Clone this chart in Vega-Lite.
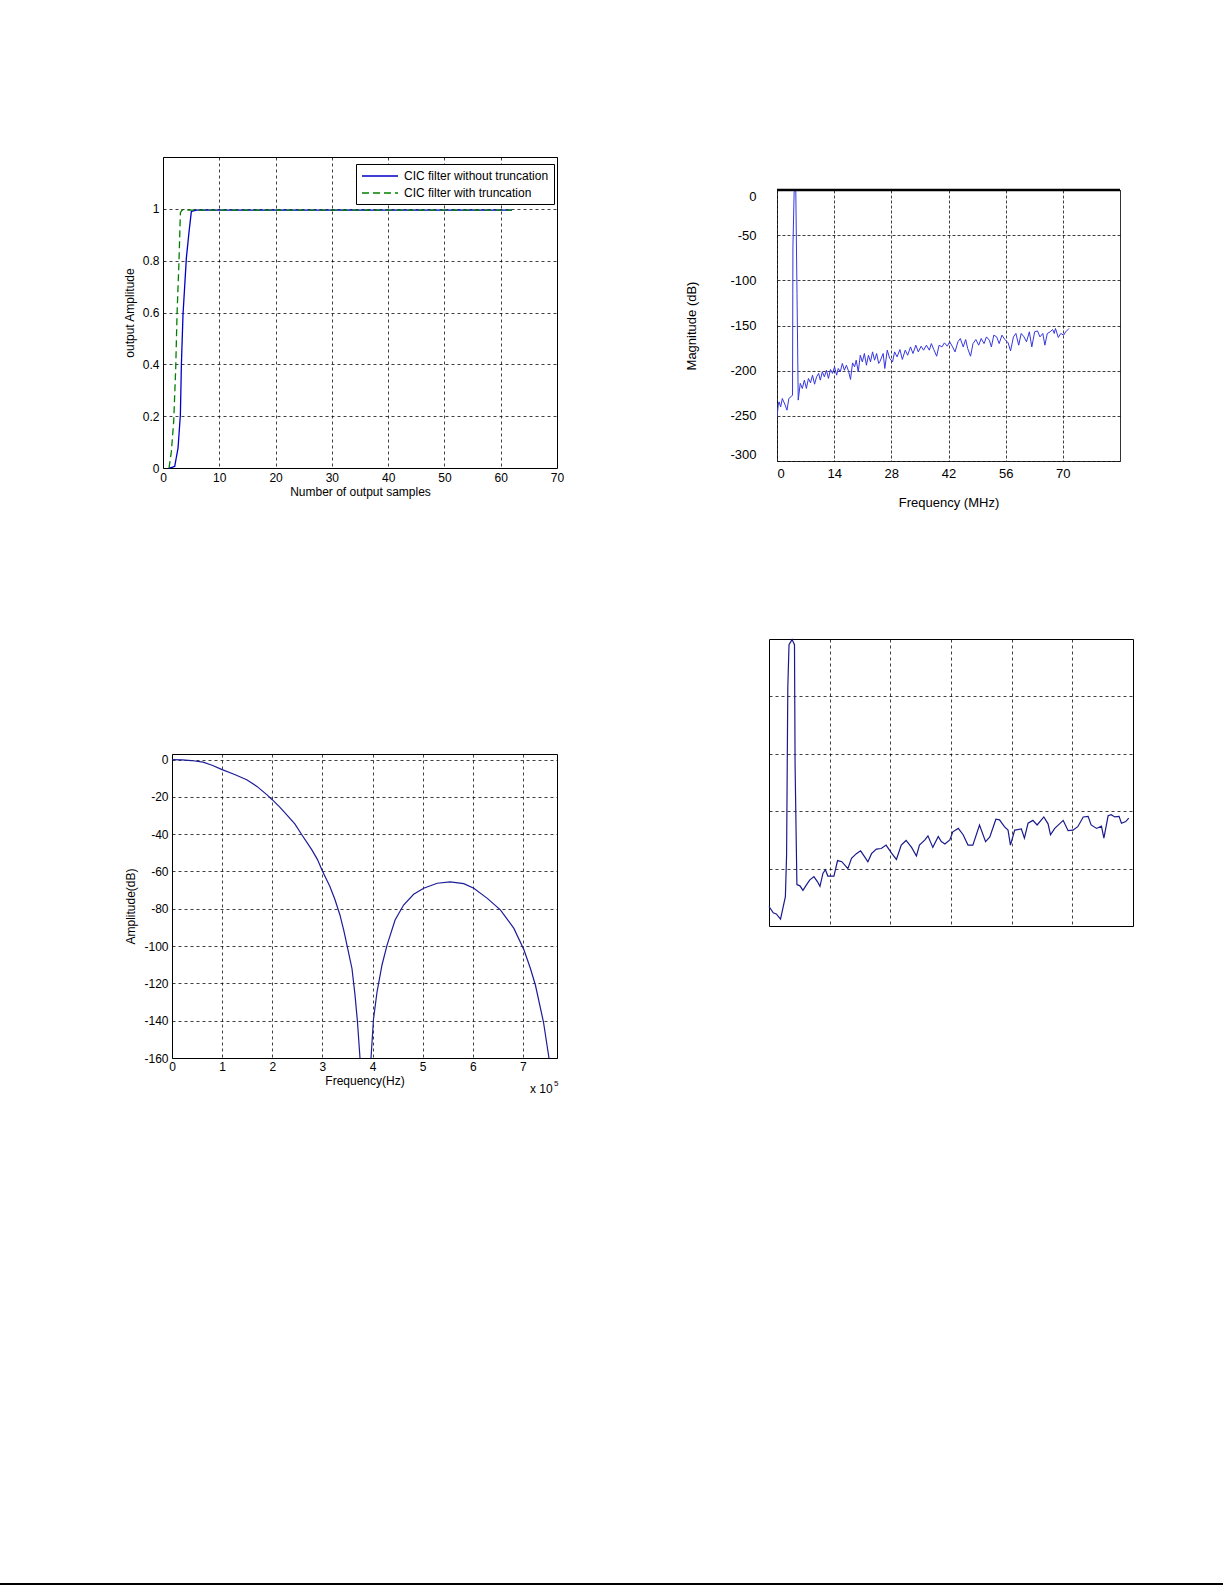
{
  "$schema": "https://vega.github.io/schema/vega-lite/v6.json",
  "padding": 0,
  "background": "white",
  "bounds": "flush",
  "spacing": 0,
  "config": {
    "font": "Liberation Sans",
    "view": {"stroke": "#000", "strokeWidth": 1},
    "concat": {"spacing": 0},
    "axis": {
      "domain": false, "ticks": false, "grid": true,
      "gridColor": "#000", "gridDash": [3, 3], "gridOpacity": 0.75,
      "labelColor": "#000", "titleColor": "#000", "titleFontWeight": "normal",
      "labelFontSize": 12, "titleFontSize": 12, "labelFlush": false, "labelOverlap": false,
      "labelExpr": "'' + datum.value"
    }
  },
  "vconcat": [
    {
      "bounds": "flush", "spacing": 0,
      "hconcat": [
        {"width": 163, "height": 1, "view": {"stroke": null}, "data": {"values": []}, "mark": "point"},
        {
          "bounds": "flush", "spacing": 0,
          "vconcat": [
            {"width": 1, "height": 157, "view": {"stroke": null}, "data": {"values": []}, "mark": "point"},
            {
              "width": 394, "height": 311,
              "data": {"values": [
                {"series": "CIC filter without truncation", "x": 1.07, "y": 0},
                {"series": "CIC filter without truncation", "x": 1.19, "y": 0},
                {"series": "CIC filter without truncation", "x": 2.08, "y": 0.006},
                {"series": "CIC filter without truncation", "x": 2.67, "y": 0.077},
                {"series": "CIC filter without truncation", "x": 3.09, "y": 0.206},
                {"series": "CIC filter without truncation", "x": 3.27, "y": 0.4},
                {"series": "CIC filter without truncation", "x": 3.55, "y": 0.59},
                {"series": "CIC filter without truncation", "x": 4.15, "y": 0.81},
                {"series": "CIC filter without truncation", "x": 4.62, "y": 0.91},
                {"series": "CIC filter without truncation", "x": 5.04, "y": 0.99},
                {"series": "CIC filter without truncation", "x": 5.93, "y": 0.995},
                {"series": "CIC filter without truncation", "x": 62, "y": 0.995},
                {"series": "CIC filter with truncation", "x": 1.07, "y": 0},
                {"series": "CIC filter with truncation", "x": 1.49, "y": 0.064},
                {"series": "CIC filter with truncation", "x": 1.9, "y": 0.18},
                {"series": "CIC filter with truncation", "x": 2.26, "y": 0.386},
                {"series": "CIC filter with truncation", "x": 2.49, "y": 0.59},
                {"series": "CIC filter with truncation", "x": 2.84, "y": 0.797},
                {"series": "CIC filter with truncation", "x": 3.09, "y": 0.985},
                {"series": "CIC filter with truncation", "x": 3.37, "y": 0.995},
                {"series": "CIC filter with truncation", "x": 62, "y": 0.995}
              ]},
              "mark": {"type": "line", "strokeWidth": 1.3},
              "encoding": {
                "x": {"field": "x", "type": "quantitative",
                  "scale": {"domain": [0, 70], "nice": false},
                  "axis": {"values": [0, 10, 20, 30, 40, 50, 60, 70], "title": "Number of output samples", "labelPadding": 4, "titlePadding": 3}},
                "y": {"field": "y", "type": "quantitative",
                  "scale": {"domain": [0, 1.2], "nice": false},
                  "axis": {"values": [0, 0.2, 0.4, 0.6, 0.8, 1], "title": "output Amplitude", "labelPadding": 4, "titlePadding": 6}},
                "color": {"field": "series", "type": "nominal",
                  "scale": {"domain": ["CIC filter without truncation", "CIC filter with truncation"], "range": ["#0000c8", "#008000"]},
                  "legend": {"orient": "none", "legendX": 356, "legendY": 164, "title": null, "strokeColor": "#000", "fillColor": "#fff", "padding": 5, "symbolType": "M-1,0H5", "symbolSize": 144, "symbolStrokeWidth": 1.3, "labelFontSize": 12, "labelOffset": 29, "rowPadding": 4, "cornerRadius": 0, "labelColor": "#000"}},
                "strokeDash": {"field": "series", "type": "nominal",
                  "scale": {"domain": ["CIC filter without truncation", "CIC filter with truncation"], "range": [[1, 0], [7, 4]]},
                  "legend": {"orient": "none", "legendX": 356, "legendY": 164, "title": null, "strokeColor": "#000", "fillColor": "#fff", "padding": 5, "symbolType": "M-1,0H5", "symbolSize": 144, "symbolStrokeWidth": 1.3, "labelFontSize": 12, "labelOffset": 29, "rowPadding": 4, "cornerRadius": 0, "labelColor": "#000"}}
              }
            },
            {"width": 1, "height": 286, "view": {"stroke": null}, "data": {"values": []}, "mark": "point"},
            {
              "bounds": "flush", "spacing": 0,
              "hconcat": [
                {"width": 9, "height": 1, "view": {"stroke": null}, "data": {"values": []}, "mark": "point"},
                {
                  "width": 385, "height": 304,
                  "layer": [
                    {
                      "data": {"values": [
                        {"f": 0, "a": 0}, {"f": 0.2, "a": -0.2}, {"f": 0.39, "a": -0.5}, {"f": 0.62, "a": -1.4},
                        {"f": 0.8, "a": -3}, {"f": 1.0, "a": -5.4}, {"f": 1.25, "a": -8}, {"f": 1.49, "a": -10.8},
                        {"f": 1.7, "a": -14.5}, {"f": 1.89, "a": -18.8}, {"f": 2.0, "a": -21.5}, {"f": 2.15, "a": -25.5},
                        {"f": 2.29, "a": -29.6}, {"f": 2.45, "a": -34.5}, {"f": 2.59, "a": -40.3}, {"f": 2.79, "a": -48.4},
                        {"f": 2.9, "a": -53.5}, {"f": 3.0, "a": -59.7}, {"f": 3.15, "a": -68.1}, {"f": 3.25, "a": -75},
                        {"f": 3.35, "a": -83.3}, {"f": 3.43, "a": -92}, {"f": 3.49, "a": -99.5}, {"f": 3.59, "a": -112},
                        {"f": 3.65, "a": -126}, {"f": 3.7, "a": -140.7}, {"f": 3.75, "a": -160}, {"f": 3.77, "a": -170},
                        {"f": 3.95, "a": -170}, {"f": 3.97, "a": -160}, {"f": 4.02, "a": -139}, {"f": 4.09, "a": -124.6},
                        {"f": 4.19, "a": -110}, {"f": 4.29, "a": -99.5}, {"f": 4.45, "a": -86}, {"f": 4.62, "a": -78},
                        {"f": 4.82, "a": -72.2}, {"f": 5.02, "a": -69}, {"f": 5.29, "a": -66.3}, {"f": 5.55, "a": -65.6},
                        {"f": 5.82, "a": -66.5}, {"f": 6.02, "a": -69}, {"f": 6.29, "a": -74.4}, {"f": 6.55, "a": -80.6},
                        {"f": 6.82, "a": -90.5}, {"f": 7.02, "a": -102}, {"f": 7.15, "a": -112}, {"f": 7.25, "a": -121},
                        {"f": 7.41, "a": -140.7}, {"f": 7.52, "a": -160}, {"f": 7.54, "a": -170}
                      ]},
                      "mark": {"type": "line", "strokeWidth": 1.2, "color": "#1c1c99", "clip": true},
                      "encoding": {
                        "x": {"field": "f", "type": "quantitative",
                          "scale": {"domain": [0, 7.68], "nice": false},
                          "axis": {"values": [0, 1, 2, 3, 4, 5, 6, 7], "title": "Frequency(Hz)", "labelPadding": 3, "titlePadding": 3}},
                        "y": {"field": "a", "type": "quantitative",
                          "scale": {"domain": [-160, 3], "nice": false},
                          "axis": {"values": [-160, -140, -120, -100, -80, -60, -40, -20, 0], "title": "Amplitude(dB)", "labelPadding": 4, "titlePadding": 6}}
                      }
                    },
                    {
                      "data": {"values": [{"note": "exponent"}]},
                      "mark": {"type": "text", "text": "x 10", "align": "left", "baseline": "alphabetic", "fontSize": 12, "fontWeight": "normal", "dx": -27, "dy": 35, "clip": false, "color": "#000"},
                      "encoding": {
                        "x": {"datum": 7.68, "type": "quantitative", "axis": {"values": [0, 1, 2, 3, 4, 5, 6, 7], "title": "Frequency(Hz)", "labelPadding": 3, "titlePadding": 3}},
                        "y": {"datum": -160, "type": "quantitative", "axis": {"values": [-160, -140, -120, -100, -80, -60, -40, -20, 0], "title": "Amplitude(dB)", "labelPadding": 4, "titlePadding": 6}}
                      }
                    },
                    {
                      "data": {"values": [{"note": "exponent"}]},
                      "mark": {"type": "text", "text": "5", "align": "left", "baseline": "alphabetic", "fontSize": 8, "fontWeight": "normal", "dx": -3, "dy": 28, "clip": false, "color": "#000"},
                      "encoding": {
                        "x": {"datum": 7.68, "type": "quantitative", "axis": {"values": [0, 1, 2, 3, 4, 5, 6, 7], "title": "Frequency(Hz)", "labelPadding": 3, "titlePadding": 3}},
                        "y": {"datum": -160, "type": "quantitative", "axis": {"values": [-160, -140, -120, -100, -80, -60, -40, -20, 0], "title": "Amplitude(dB)", "labelPadding": 4, "titlePadding": 6}}
                      }
                    }
                  ]
                }
              ]
            }
          ]
        },
        {"width": 606, "height": 1, "view": {"stroke": null}, "data": {"values": []}, "mark": "point"},
        {
          "bounds": "flush", "spacing": 0,
          "vconcat": [
            {"width": 1, "height": 190, "view": {"stroke": null}, "data": {"values": []}, "mark": "point"},
            {
              "bounds": "flush", "spacing": 0,
              "hconcat": [
                {"width": 8, "height": 1, "view": {"stroke": null}, "data": {"values": []}, "mark": "point"},
                {
                  "width": 343, "height": 271,
                  "view": {"stroke": "#333"},
                  "layer": [
                    {
                      "data": {"values": [
                        {"f": 0, "m": -252}, {"f": 0.3, "m": -238}, {"f": 0.5, "m": -234.5}, {"f": 0.9, "m": -240},
                        {"f": 1.3, "m": -230.8}, {"f": 1.9, "m": -237}, {"f": 2.45, "m": -243.7}, {"f": 2.9, "m": -230.8},
                        {"f": 3.4, "m": -229}, {"f": 3.8, "m": -227}, {"f": 3.9, "m": -63}, {"f": 4.2, "m": -2},
                        {"f": 4.6, "m": 0}, {"f": 4.9, "m": -114.6}, {"f": 5.2, "m": -232.6}, {"f": 5.7, "m": -214},
                        {"f": 6.2, "m": -219.7}, {"f": 6.7, "m": -210.5}, {"f": 7.2, "m": -219.7}, {"f": 7.7, "m": -208.6},
                        {"f": 8.2, "m": -213.5}, {"f": 8.7, "m": -205}, {"f": 9.2, "m": -215}, {"f": 9.7, "m": -206.8},
                        {"f": 10.2, "m": -203}, {"f": 10.6, "m": -210.5}, {"f": 11.1, "m": -201.3}, {"f": 11.6, "m": -206.8},
                        {"f": 12.1, "m": -199.5}, {"f": 12.6, "m": -208.6}, {"f": 13.1, "m": -198.7}, {"f": 13.6, "m": -203},
                        {"f": 14.1, "m": -195.8}, {"f": 14.6, "m": -205}, {"f": 15.0, "m": -197.6}, {"f": 15.5, "m": -201.3},
                        {"f": 16.0, "m": -192}, {"f": 16.5, "m": -199.5}, {"f": 17.0, "m": -194}, {"f": 17.5, "m": -200.2},
                        {"f": 18.0, "m": -209.7}, {"f": 18.5, "m": -191.4}, {"f": 19.0, "m": -195.8}, {"f": 19.4, "m": -188.4},
                        {"f": 19.9, "m": -201.3}, {"f": 20.4, "m": -182.9}, {"f": 20.9, "m": -190.3}, {"f": 21.4, "m": -181},
                        {"f": 21.9, "m": -194}, {"f": 22.4, "m": -182.9}, {"f": 22.9, "m": -190.3}, {"f": 23.4, "m": -179.2},
                        {"f": 23.9, "m": -188.4}, {"f": 24.4, "m": -181}, {"f": 24.9, "m": -192}, {"f": 25.2, "m": -190},
                        {"f": 26.0, "m": -181}, {"f": 26.4, "m": -197.6}, {"f": 27.0, "m": -177.3}, {"f": 27.6, "m": -186.5},
                        {"f": 28.3, "m": -190.3}, {"f": 28.8, "m": -179.2}, {"f": 29.4, "m": -184.7}, {"f": 30.1, "m": -176.6},
                        {"f": 30.7, "m": -187.6}, {"f": 31.4, "m": -177.3}, {"f": 32.0, "m": -182.9}, {"f": 32.7, "m": -173.7},
                        {"f": 33.3, "m": -181}, {"f": 34.0, "m": -171.8}, {"f": 34.6, "m": -179.2}, {"f": 35.3, "m": -172.9},
                        {"f": 35.9, "m": -177.3}, {"f": 36.6, "m": -171.8}, {"f": 37.3, "m": -177.3}, {"f": 37.8, "m": -170},
                        {"f": 38.4, "m": -176.6}, {"f": 39.1, "m": -184}, {"f": 39.7, "m": -171.8}, {"f": 40.4, "m": -173.7},
                        {"f": 41.0, "m": -169.2}, {"f": 41.7, "m": -172.9}, {"f": 42.3, "m": -168.1}, {"f": 43.0, "m": -173.7},
                        {"f": 43.6, "m": -179.2}, {"f": 44.3, "m": -168.1}, {"f": 44.9, "m": -164.4}, {"f": 45.6, "m": -173.7},
                        {"f": 46.2, "m": -165.5}, {"f": 46.7, "m": -175.5}, {"f": 47.4, "m": -184}, {"f": 48.0, "m": -170},
                        {"f": 48.7, "m": -165.5}, {"f": 49.4, "m": -171.8}, {"f": 50.0, "m": -164.4}, {"f": 50.7, "m": -170},
                        {"f": 51.3, "m": -162.6}, {"f": 52.0, "m": -166.3}, {"f": 52.5, "m": -173.7}, {"f": 53.1, "m": -160.7},
                        {"f": 53.8, "m": -162.6}, {"f": 54.4, "m": -170}, {"f": 55.1, "m": -160.7}, {"f": 55.8, "m": -165.5},
                        {"f": 56.6, "m": -169.2}, {"f": 57.2, "m": -178.1}, {"f": 57.9, "m": -162.6}, {"f": 58.5, "m": -158.8},
                        {"f": 59.2, "m": -171.8}, {"f": 59.8, "m": -158.8}, {"f": 60.5, "m": -162.6}, {"f": 61.1, "m": -168.1},
                        {"f": 61.8, "m": -157}, {"f": 62.4, "m": -173.7}, {"f": 63.1, "m": -157}, {"f": 63.8, "m": -156},
                        {"f": 64.4, "m": -162.6}, {"f": 65.1, "m": -158.8}, {"f": 65.6, "m": -171.8}, {"f": 66.2, "m": -158.8},
                        {"f": 66.9, "m": -157}, {"f": 67.5, "m": -154.4}, {"f": 67.9, "m": -158.8}, {"f": 68.2, "m": -153.3},
                        {"f": 68.9, "m": -163.3}, {"f": 69.5, "m": -158.8}, {"f": 70.2, "m": -160.7}, {"f": 70.7, "m": -157},
                        {"f": 71.5, "m": -153.3}
                      ]},
                      "mark": {"type": "line", "strokeWidth": 1, "color": "#3636e0", "clip": true},
                      "encoding": {
                        "x": {"field": "f", "type": "quantitative",
                          "scale": {"domain": [0, 84], "nice": false},
                          "axis": {"values": [0, 14, 28, 42, 56, 70], "title": "Frequency (MHz)", "labelFontSize": 13, "titleFontSize": 13, "labelPadding": 6, "titlePadding": 16, "labelFlush": true, "gridDash": [3, 2]}},
                        "y": {"field": "m", "type": "quantitative",
                          "scale": {"domain": [-300, 0], "nice": false},
                          "axis": {"values": [-300, -250, -200, -150, -100, -50, 0], "title": "Magnitude (dB)", "labelFontSize": 13, "titleFontSize": 13, "labelPadding": 21, "titlePadding": 31, "labelFlush": true, "gridDash": [3, 2]}}
                      }
                    },
                    {
                      "data": {"values": [{"edge": "top"}]},
                      "mark": {"type": "rule", "strokeWidth": 2.5, "color": "#000"},
                      "encoding": {"y": {"datum": 0, "type": "quantitative",
                        "axis": {"values": [-300, -250, -200, -150, -100, -50, 0], "title": "Magnitude (dB)", "labelFontSize": 13, "titleFontSize": 13, "labelPadding": 21, "titlePadding": 31, "labelFlush": true, "gridDash": [3, 2]}}}
                    }
                  ]
                }
              ]
            },
            {"width": 1, "height": 449, "view": {"stroke": null}, "data": {"values": []}, "mark": "point"},
            {
              "width": 364, "height": 287,
              "data": {"values": [
                {"x": 0.0, "y": 0.34}, {"x": 0.07, "y": 0.23}, {"x": 0.12, "y": 0.21}, {"x": 0.19, "y": 0.12},
                {"x": 0.27, "y": 0.51}, {"x": 0.29, "y": 1.24}, {"x": 0.31, "y": 4.15}, {"x": 0.33, "y": 4.9},
                {"x": 0.38, "y": 4.99}, {"x": 0.42, "y": 4.9}, {"x": 0.43, "y": 2.81}, {"x": 0.45, "y": 1.41},
                {"x": 0.46, "y": 0.72}, {"x": 0.51, "y": 0.7}, {"x": 0.56, "y": 0.62}, {"x": 0.62, "y": 0.72},
                {"x": 0.67, "y": 0.8}, {"x": 0.74, "y": 0.86}, {"x": 0.8, "y": 0.77}, {"x": 0.84, "y": 0.69},
                {"x": 0.89, "y": 0.92}, {"x": 0.93, "y": 0.98}, {"x": 0.97, "y": 0.87}, {"x": 1.07, "y": 0.87},
                {"x": 1.13, "y": 1.14}, {"x": 1.2, "y": 1.12}, {"x": 1.25, "y": 1.06}, {"x": 1.3, "y": 1.0},
                {"x": 1.36, "y": 1.18}, {"x": 1.44, "y": 1.26}, {"x": 1.51, "y": 1.31}, {"x": 1.58, "y": 1.2},
                {"x": 1.63, "y": 1.12}, {"x": 1.69, "y": 1.26}, {"x": 1.77, "y": 1.34}, {"x": 1.85, "y": 1.35},
                {"x": 1.93, "y": 1.41}, {"x": 2.02, "y": 1.27}, {"x": 2.1, "y": 1.16}, {"x": 2.18, "y": 1.41},
                {"x": 2.26, "y": 1.49}, {"x": 2.35, "y": 1.37}, {"x": 2.43, "y": 1.22}, {"x": 2.48, "y": 1.41},
                {"x": 2.57, "y": 1.5}, {"x": 2.62, "y": 1.57}, {"x": 2.7, "y": 1.37}, {"x": 2.79, "y": 1.56},
                {"x": 2.84, "y": 1.47}, {"x": 2.9, "y": 1.43}, {"x": 2.98, "y": 1.5}, {"x": 3.03, "y": 1.64},
                {"x": 3.12, "y": 1.7}, {"x": 3.2, "y": 1.59}, {"x": 3.28, "y": 1.41}, {"x": 3.36, "y": 1.41},
                {"x": 3.47, "y": 1.76}, {"x": 3.57, "y": 1.47}, {"x": 3.64, "y": 1.55}, {"x": 3.74, "y": 1.86},
                {"x": 3.8, "y": 1.85}, {"x": 3.88, "y": 1.73}, {"x": 3.94, "y": 1.67}, {"x": 3.98, "y": 1.41},
                {"x": 4.05, "y": 1.67}, {"x": 4.16, "y": 1.69}, {"x": 4.21, "y": 1.53}, {"x": 4.27, "y": 1.79},
                {"x": 4.35, "y": 1.84}, {"x": 4.42, "y": 1.76}, {"x": 4.53, "y": 1.9}, {"x": 4.6, "y": 1.78},
                {"x": 4.64, "y": 1.59}, {"x": 4.71, "y": 1.7}, {"x": 4.85, "y": 1.84}, {"x": 4.93, "y": 1.66},
                {"x": 5.01, "y": 1.67}, {"x": 5.09, "y": 1.73}, {"x": 5.18, "y": 1.9}, {"x": 5.26, "y": 1.91},
                {"x": 5.31, "y": 1.76}, {"x": 5.4, "y": 1.7}, {"x": 5.48, "y": 1.74}, {"x": 5.52, "y": 1.53},
                {"x": 5.59, "y": 1.92}, {"x": 5.64, "y": 1.94}, {"x": 5.7, "y": 1.9}, {"x": 5.77, "y": 1.91},
                {"x": 5.81, "y": 1.79}, {"x": 5.88, "y": 1.82}, {"x": 5.93, "y": 1.88}
              ]},
              "mark": {"type": "line", "strokeWidth": 1.2, "color": "#1a1a8c"},
              "encoding": {
                "x": {"field": "x", "type": "quantitative", "scale": {"domain": [0, 6], "nice": false},
                  "axis": {"values": [1, 2, 3, 4, 5], "labels": false, "title": null}},
                "y": {"field": "y", "type": "quantitative", "scale": {"domain": [0, 5], "nice": false},
                  "axis": {"values": [1, 2, 3, 4], "labels": false, "title": null}}
              }
            }
          ]
        },
        {"width": 456, "height": 1, "view": {"stroke": null}, "data": {"values": []}, "mark": "point"}
      ]
    },
    {"width": 1, "height": 1583, "view": {"stroke": null}, "data": {"values": []}, "mark": "point"},
    {"width": 1223, "height": 2, "view": {"fill": "#000", "stroke": null}, "data": {"values": []}, "mark": "point"}
  ]
}
